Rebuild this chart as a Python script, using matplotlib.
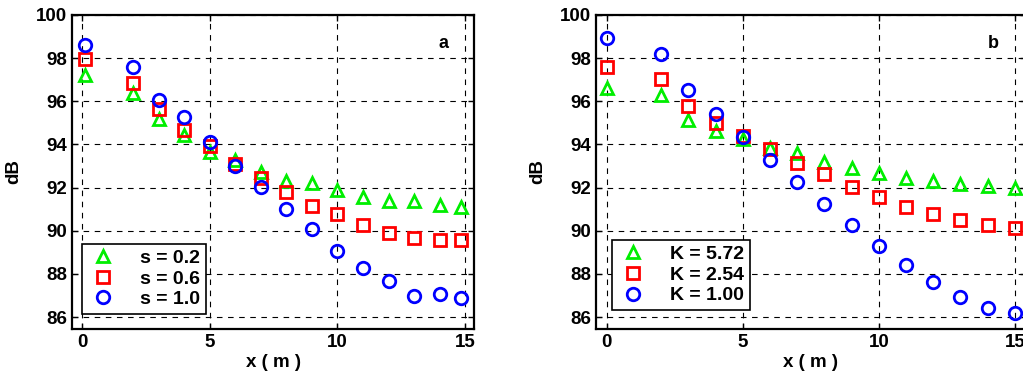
import numpy as np
import matplotlib
matplotlib.use("Agg")
import matplotlib.pyplot as plt

plt.rcParams['font.family'] = ['Liberation Sans', 'DejaVu Sans']
plt.rcParams['font.weight'] = 'bold'

# panel a
xa = [0.1, 2, 3, 4, 5, 6, 7, 8, 9, 10, 11, 12, 13, 14, 14.85]
a_s02 = [97.2, 96.38, 95.19, 94.42, 93.67, 93.26, 92.74, 92.31, 92.2, 91.89, 91.58, 91.38, 91.38, 91.2, 91.09]
a_s06 = [97.97, 96.84, 95.64, 94.68, 93.94, 93.1, 92.43, 91.79, 91.15, 90.78, 90.27, 89.88, 89.68, 89.57, 89.57]
a_s10 = [98.59, 97.57, 96.07, 95.27, 94.09, 93.02, 92.05, 91.0, 90.07, 89.08, 88.29, 87.67, 86.99, 87.07, 86.87]
labels_a = ["s = 0.2", "s = 0.6", "s = 1.0"]

# panel b
xb = [0, 2, 3, 4, 5, 6, 7, 8, 9, 10, 11, 12, 13, 14, 15]
b_k572 = [96.62, 96.31, 95.15, 94.61, 94.23, 93.84, 93.58, 93.19, 92.92, 92.69, 92.45, 92.3, 92.15, 92.07, 91.99]
b_k254 = [97.58, 97.05, 95.77, 95.0, 94.38, 93.77, 93.15, 92.61, 92.04, 91.57, 91.11, 90.76, 90.48, 90.25, 90.14]
b_k100 = [98.94, 98.21, 96.54, 95.42, 94.35, 93.30, 92.25, 91.22, 90.28, 89.29, 88.41, 87.64, 86.94, 86.44, 86.17]
labels_b = ["K = 5.72", "K = 2.54", "K = 1.00"]

fig = plt.figure(figsize=(10.23, 3.73), dpi=100)
ax1 = fig.add_axes([0.0704, 0.118, 0.393, 0.842])
ax2 = fig.add_axes([0.5826, 0.118, 0.420, 0.842])

def panel(ax, x, ys, labels, tag, xmax, legx, legy):
    styles = [('^', '#00ee00'), ('s', '#ff0000'), ('o', '#0000ff')]
    for y, lab, (m, c) in zip(ys, labels, styles):
        ax.plot(x, y, linestyle='none', marker=m, ms=9, mfc='none', mec=c, mew=2, label=lab)
    ax.set_xlim(-0.4, xmax)
    ax.set_ylim(85.45, 100)
    ax.set_xticks([0, 5, 10, 15])
    ax.set_yticks(np.arange(86, 101, 2))
    ax.grid(True, color='black', linestyle=(0, (5, 5)), linewidth=0.8)
    ax.tick_params(direction='in', top=True, right=True, labelsize=13.5, length=4, width=1)
    for lb in ax.get_xticklabels() + ax.get_yticklabels():
        lb.set_fontweight('bold')
    for sp in ax.spines.values():
        sp.set_linewidth(1.6)
    ax.set_xlabel('x ( m )', fontsize=13.5, fontweight='bold', labelpad=2)
    ax.set_ylabel('dB', fontsize=13.5, fontweight='bold', labelpad=10)
    ax.text(0.925, 0.91, tag, transform=ax.transAxes, fontsize=13, fontweight='bold', ha='center', va='center')
    leg = ax.legend(loc='lower left', bbox_to_anchor=(legx, legy), borderaxespad=0, fancybox=False, framealpha=1,
                    edgecolor='black', prop={'weight': 'bold', 'size': 14},
                    handletextpad=1.1, handlelength=1.6, labelspacing=0.15, borderpad=0.3)
    leg.get_frame().set_linewidth(1.2)

panel(ax1, xa, [a_s02, a_s06, a_s10], labels_a, 'a', 15.35, 0.025, 0.048)
panel(ax2, xb, [b_k572, b_k254, b_k100], labels_b, 'b', 15.4, 0.037, 0.06)

fig.savefig('out.png', dpi=100)
